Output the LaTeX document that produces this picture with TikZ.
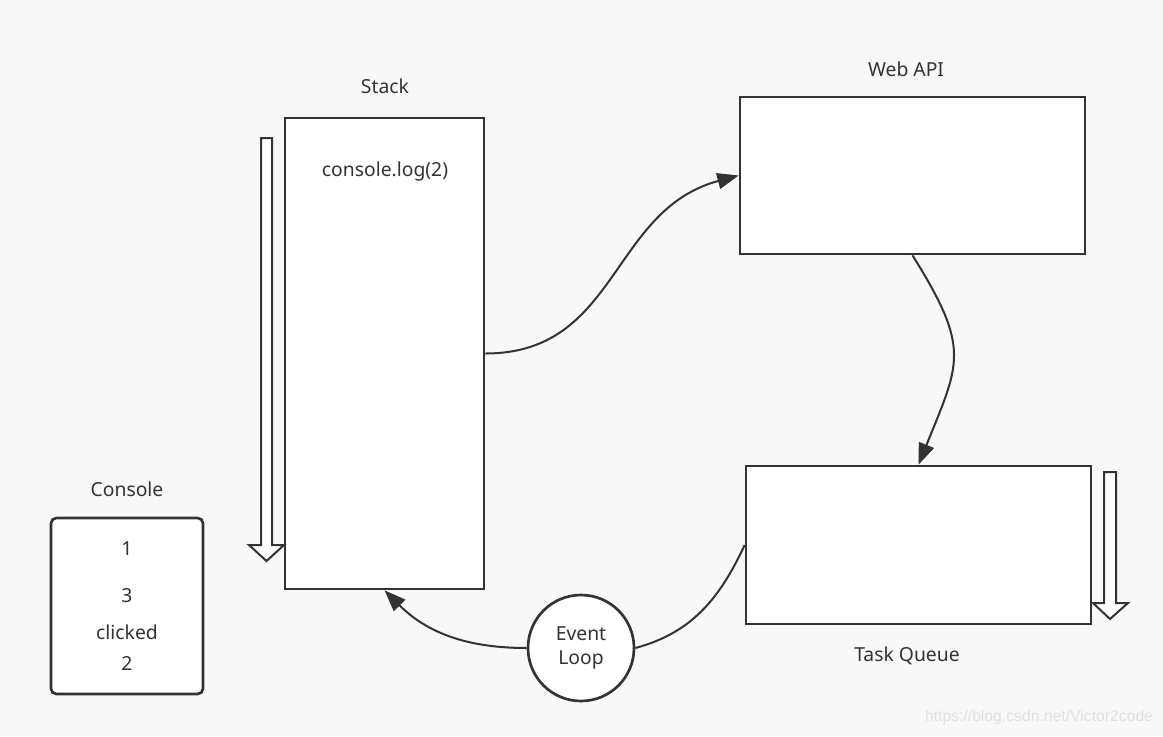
\documentclass[tikz,border=0pt]{standalone}
\usepackage{fontspec}
\setmainfont{Noto Sans}
\newfontfamily\markfont{Liberation Sans}
\usetikzlibrary{arrows.meta}
\definecolor{ink}{HTML}{333333}
\definecolor{paper}{HTML}{F8F8F8}
\begin{document}
\begin{tikzpicture}[
        x=0.75pt, y=-0.75pt,
        font=\fontsize{14.5}{17}\selectfont, text=ink,
        box/.style={rectangle, draw=ink, fill=white, line width=2pt, inner sep=0pt},
        loopnode/.style={circle, draw=ink, fill=white, line width=2pt, inner sep=0pt, minimum size=79.5pt, align=center},
        hollow/.style={draw=ink, fill=white, line width=1.5pt, line join=miter},
        arrow/.style={draw=ink, line width=1.5pt, -{Triangle[length=16pt,width=12pt]}},
        link/.style={draw=ink, line width=1.5pt}
    ]
        \fill[paper] (0,0) rectangle (1163,736);
        \useasboundingbox (0,0) rectangle (1163,736);

        % boxes
        \node (stack) [box, minimum width=149.25pt, minimum height=353.25pt] at (384.5,353.5) {};
        \node (webapi) [box, minimum width=258.75pt, minimum height=117.75pt] at (912.5,175.5) {};
        \node (taskq) [box, minimum width=258.75pt, minimum height=118.5pt] at (918.5,545) {};
        \node (console) [box, rounded corners=4pt, minimum width=114pt, minimum height=132pt] at (127,606) {};
        \node (loop) [loopnode] at (581,648) {Event\\[1pt]Loop};

        % titles
        \node (stacktitle) at (385,86) {Stack};
        \node (webtitle) at (906,69) {Web API};
        \node (tasktitle) at (907,656) {Task Queue};
        \node (contitle) at (127,489) {Console};

        % contents
        \node (log) at (385,171) {console.log(2)};
        \node (out1) at (127,549) {1};
        \node (out3) at (127,596) {3};
        \node (outclick) at (127,632) {clicked};
        \node (out2) at (127,663) {2};

        % hollow arrows
        \draw [hollow] (261,138) -- (272,138) -- (272,545) -- (284,545) -- (266.5,561) -- (249,545) -- (261,545) -- cycle;
        \draw [hollow] (1104,472) -- (1116,472) -- (1116,603) -- (1128,603) -- (1110,619) -- (1093,603) -- (1104,603) -- cycle;

        % connectors
        \draw [arrow] (stack.east) to[out=0, in=195, looseness=1.1] (webapi.west);
        \draw [arrow] (webapi.south) to[out=-58, in=68, looseness=1.35] (taskq.north);
        \draw [link] (taskq.west) to[out=-115, in=15] (loop.east);
        \draw [arrow] (loop.west) to[out=180, in=-45] (stack.south);

        \node (mark) [text=black!12, font=\markfont\fontsize{11.8}{13}\selectfont] at (1039,717) {https://blog.csdn.net/Victor2code};
    \end{tikzpicture}
\end{document}
